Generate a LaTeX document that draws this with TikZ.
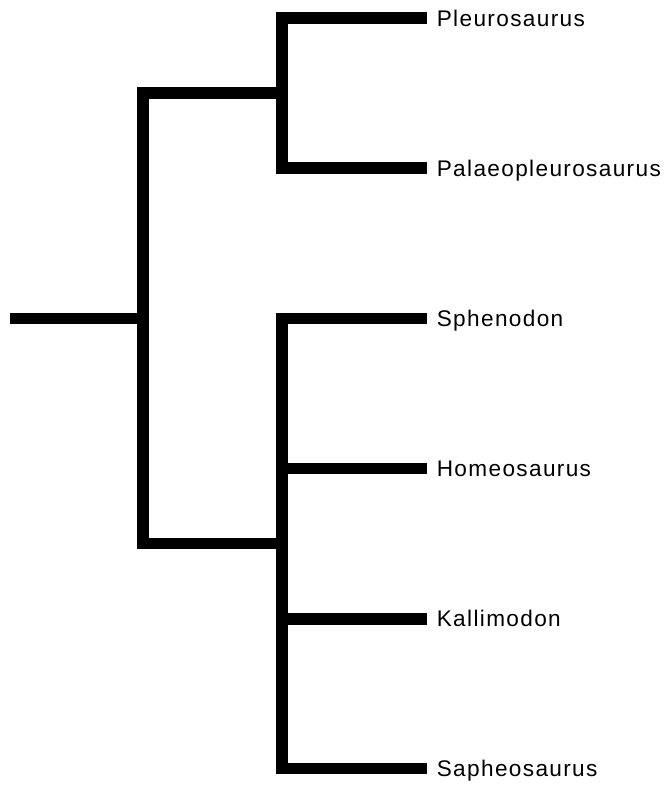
\documentclass[tikz,border=0pt]{standalone}
\usepackage{fontspec}
\setmainfont{Liberation Sans}[LetterSpace=6]
\begin{document}
\begin{tikzpicture}[x=1pt,y=-1pt,
  branch/.style={line width=11.7pt,black},
  taxon/.style={anchor=base west,inner sep=0pt,font=\fontsize{22.6}{26}\selectfont}]
\useasboundingbox (0,0) rectangle (666,787);
% coordinates
\coordinate (r0) at (10.3,318.5);
\coordinate (n0) at (143.3,318.5);
\coordinate (nA) at (282.2,93.3);
\coordinate (nB) at (282.2,543.5);
\coordinate (t1) at (426.7,18.3);
\coordinate (t2) at (426.7,168.2);
\coordinate (t3) at (426.7,318.5);
\coordinate (t4) at (426.7,468.5);
\coordinate (t5) at (426.7,619);
\coordinate (t6) at (426.7,768.5);
% labels
\node[taxon] (L1) at (436.6,26.1) {Pleurosaurus};
\node[taxon] (L2) at (436.6,176.0) {Palaeopleurosaurus};
\node[taxon] (L3) at (436.6,326.3) {Sphenodon};
\node[taxon] (L4) at (436.6,476.3) {Homeosaurus};
\node[taxon] (L5) at (436.6,626.8) {Kallimodon};
\node[taxon] (L6) at (436.6,776.3) {Sapheosaurus};
% branches
\draw[branch] (r0) -- (n0);
\draw[branch] (nA) -| (n0) |- (nB);
\draw[branch] (t1) -| (nA) |- (t2);
\draw[branch] (t3) -| (nB) |- (t6);
\draw[branch] (t4) -- (t4 -| nB);
\draw[branch] (t5) -- (t5 -| nB);
\end{tikzpicture}
\end{document}
